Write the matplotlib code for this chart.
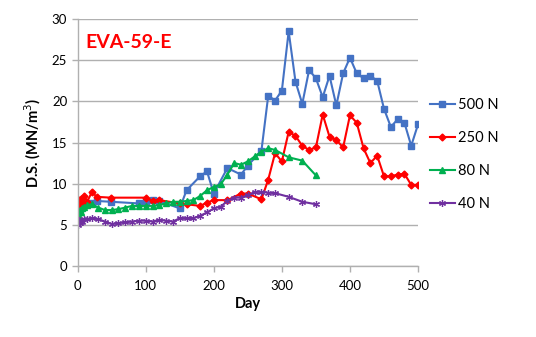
import matplotlib
matplotlib.use("Agg")
import matplotlib.pyplot as plt

plt.rcParams['font.family'] = ['Lato', 'DejaVu Sans']

days_500 = [0, 1, 3, 5, 7, 14, 21, 28, 49, 90, 100, 110, 120, 150, 160, 180, 190, 200, 220, 240, 250,
            270, 280, 290, 300, 310, 320, 330, 340, 350, 360, 370, 380, 390, 400, 410, 420, 430, 440,
            450, 460, 470, 480, 490, 500]
vals_500 = [6.5, 6.9, 7.2, 7.0, 7.3, 7.5, 7.6, 7.9, 7.8, 7.6, 7.9, 8.0, 7.9, 7.0, 9.2, 10.9, 11.5, 8.8,
            11.9, 11.1, 12.2, 14.0, 20.7, 20.1, 21.3, 28.5, 22.4, 19.7, 23.8, 22.8, 20.5, 23.1, 19.5,
            23.4, 25.3, 23.4, 22.8, 23.1, 22.5, 19.1, 16.9, 17.8, 17.4, 14.6, 17.2]

days_250 = [0, 1, 2, 3, 5, 7, 10, 14, 21, 28, 49, 100, 110, 120, 150, 160, 180, 190, 200, 220, 240, 250,
            270, 280, 290, 300, 310, 320, 330, 340, 350, 360, 370, 380, 390, 400, 410, 420, 430, 440,
            450, 460, 470, 480, 490, 500]
vals_250 = [7.5, 7.9, 8.0, 7.6, 8.1, 7.8, 8.5, 7.8, 9.0, 8.4, 8.3, 8.3, 7.9, 8.0, 7.6, 7.5, 7.3, 7.7,
            8.0, 8.0, 8.8, 8.8, 8.1, 10.5, 13.7, 12.7, 16.3, 15.8, 14.6, 14.1, 14.4, 18.4, 15.7, 15.3,
            14.4, 18.3, 17.4, 14.3, 12.5, 13.4, 10.9, 10.9, 11.1, 11.2, 9.85, 9.85]

days_80 = [0, 1, 2, 3, 5, 7, 10, 14, 21, 30, 40, 50, 60, 70, 80, 90, 100, 110, 120, 130, 140, 150, 160,
           170, 180, 190, 200, 210, 220, 230, 240, 250, 260, 270, 280, 290, 310, 330, 350]
vals_80 = [6.0, 6.3, 6.6, 6.8, 6.5, 7.0, 7.2, 7.4, 7.5, 7.1, 6.8, 6.8, 6.9, 7.1, 7.3, 7.3, 7.3, 7.3,
           7.4, 7.6, 7.8, 7.8, 7.9, 8.0, 8.5, 9.2, 9.6, 9.9, 11.1, 12.5, 12.3, 12.7, 13.3, 13.9, 14.3,
           14.1, 13.2, 12.8, 11.0]

days_40 = [0, 1, 2, 3, 5, 7, 10, 14, 21, 30, 40, 50, 60, 70, 80, 90, 100, 110, 120, 130, 140, 150, 160,
           170, 180, 190, 200, 210, 220, 230, 240, 250, 260, 270, 280, 290, 310, 330, 350]
vals_40 = [5.0, 5.3, 5.6, 5.2, 5.5, 5.4, 5.7, 5.7, 5.8, 5.7, 5.4, 5.1, 5.2, 5.3, 5.4, 5.5, 5.5, 5.4,
           5.6, 5.5, 5.4, 5.8, 5.8, 5.8, 6.1, 6.5, 7.0, 7.2, 7.9, 8.3, 8.3, 8.6, 9.0, 9.0, 8.9, 8.85,
           8.4, 7.8, 7.5]

labels = ['500 N', '250 N', '80 N', '40 N']
title = 'EVA-59-E'
x_ticks = [0, 100, 200, 300, 400, 500]
y_ticks = [0, 5, 10, 15, 20, 25, 30]

fig = plt.figure(figsize=(5.36, 3.37), dpi=100)
ax = fig.add_axes([0.1448, 0.2107, 0.6351, 0.7329])

ax.plot(days_500, vals_500, color='#4472C4', marker='s', markersize=5, lw=1.5, label=labels[0])
ax.plot(days_250, vals_250, color='#FF0000', marker='D', markersize=3.5, lw=1.5, label=labels[1])
ax.plot(days_80, vals_80, color='#00B050', marker='^', markersize=5, lw=1.5, label=labels[2])
ax.plot(days_40, vals_40, color='#7030A0', marker=(6, 2, 0), markersize=5, mew=0.9, lw=1.5,
        label=labels[3])

ax.set_xlim(0, 500)
ax.set_ylim(0, 30)
ax.set_xticks(x_ticks)
ax.set_yticks(y_ticks)
ax.yaxis.grid(True, color='#B0B0B0', lw=1)
ax.set_axisbelow(True)
for s in ['top', 'right']:
    ax.spines[s].set_visible(False)
for s in ['left', 'bottom']:
    ax.spines[s].set_color('#B0B0B0')
    ax.spines[s].set_linewidth(1)
ax.tick_params(axis='both', colors='#B0B0B0', labelcolor='black', labelsize=9.5, length=4, width=1)
ax.tick_params(axis='x', pad=6)

ax.set_xlabel('Day', fontsize=10.5, fontweight='bold', labelpad=4)
ax.set_ylabel('D.S. (MN/m$^3$)', fontsize=10.5, fontweight='bold', labelpad=6)

ax.text(0.022, 0.905, title, transform=ax.transAxes, color='#FF0000', fontsize=14,
        fontweight='bold', va='center', ha='left')

ax.legend(loc='center left', bbox_to_anchor=(1.035, 0.45), frameon=False, fontsize=10.5,
          labelspacing=1.3, handlelength=1.7, handletextpad=0.25, borderaxespad=0, borderpad=0)

fig.savefig('out.png', dpi=100)
